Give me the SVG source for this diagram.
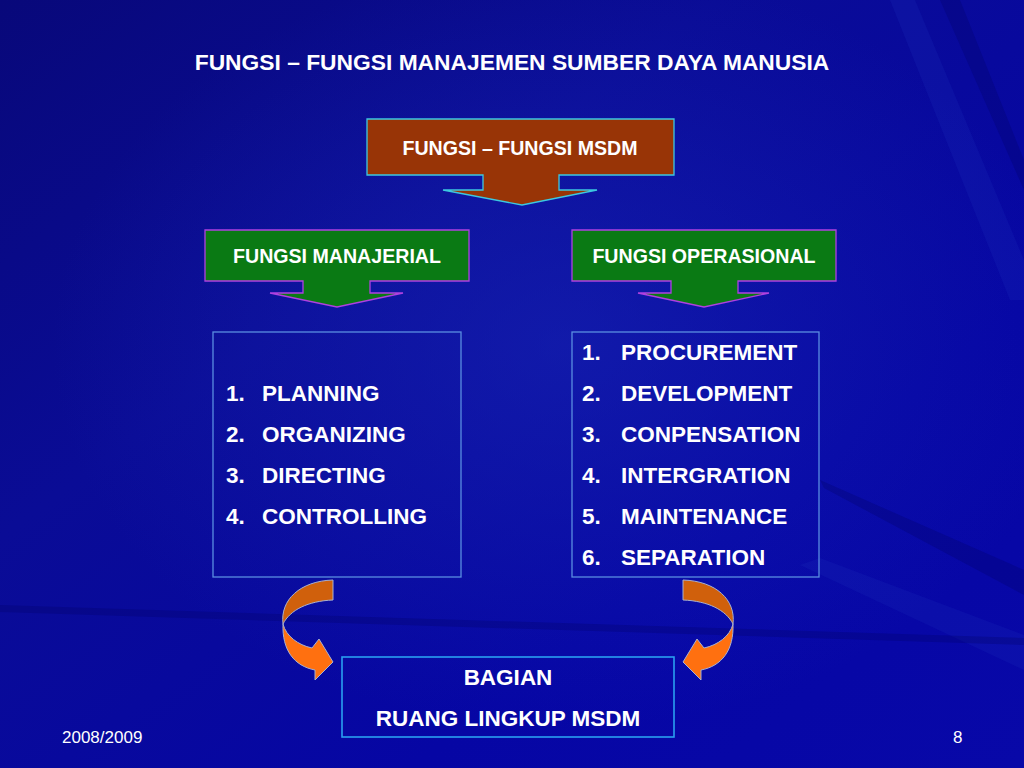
<svg xmlns="http://www.w3.org/2000/svg" width="1024" height="768" viewBox="0 0 1024 768">
<defs>
<linearGradient id="bg" x1="0" y1="0" x2="1" y2="1">
<stop offset="0" stop-color="#08087a"/>
<stop offset="0.35" stop-color="#0a0c96"/>
<stop offset="0.7" stop-color="#0606a4"/>
<stop offset="1" stop-color="#0808a8"/>
</linearGradient>
<radialGradient id="glow" cx="0.55" cy="0.45" r="0.5">
<stop offset="0" stop-color="#1a2ab8" stop-opacity="0.5"/>
<stop offset="1" stop-color="#1a2ab8" stop-opacity="0"/>
</radialGradient>
<style>
text{font-family:"Liberation Sans",Arial,sans-serif;fill:#ffffff}
.title{font-size:22.8px;font-weight:bold}
.hdr{font-size:19.6px;font-weight:bold}
.li{font-size:22.5px;font-weight:bold}
.ft{font-size:17px}
.brown{fill:#983406;stroke:#3cc8e0;stroke-width:1.3}
.green{fill:#0a7a14;stroke:#b040e0;stroke-width:1.3}
.list{fill:none;stroke:#5a8ee0;stroke-width:1.3}
.bottom{fill:none;stroke:#2aa0f0;stroke-width:1.6}
.back{fill:#d0600c;stroke:#a8b0d0;stroke-width:1}
.front{fill:#ff7010;stroke:#a8b0d0;stroke-width:1}
.streak{fill:#2030c0;opacity:0.2}
.dstreak{fill:#04046a;opacity:0.3}
</style>
</defs>
<rect width="1024" height="768" fill="url(#bg)"/>
<rect width="1024" height="768" fill="url(#glow)"/>
<g id="background-streaks">
<path class="streak" d="M1024,670 L800,565 L820,558 L1024,635 Z"/>
<path class="dstreak" d="M1024,570 L820,480 L824,488 L1024,595 Z"/>
<path class="dstreak" d="M0,612 L1024,645 L1024,638 L0,605 Z"/>
<path class="streak" d="M890,0 L1010,300 L1024,300 L1024,260 L915,0 Z"/>
<path class="dstreak" d="M940,0 L1024,190 L1024,160 L960,0 Z"/>
</g>
<text class="title" x="512" y="70" text-anchor="middle">FUNGSI – FUNGSI MANAJEMEN SUMBER DAYA MANUSIA</text>
<g id="node-msdm">
<path class="brown" d="M367,119 H674 V175 H559 V190 H597 L522,205 L443,190 H483 V175 H367 Z"/>
<text class="hdr" x="520" y="155" text-anchor="middle">FUNGSI – FUNGSI MSDM</text>
</g>
<g id="node-manajerial">
<path class="green" d="M205,230 H469 V281 H370 V293 H403 L337,307 L270,293 H303 V281 H205 Z"/>
<text class="hdr" x="337" y="263" text-anchor="middle">FUNGSI MANAJERIAL</text>
</g>
<g id="node-operasional">
<path class="green" d="M572,230 H836 V281 H738 V293 H769 L704,307 L638,293 H671 V281 H572 Z"/>
<text class="hdr" x="704" y="263" text-anchor="middle">FUNGSI OPERASIONAL</text>
</g>
<g id="node-list-manajerial">
<rect class="list" x="213" y="332" width="248" height="245"/>
<text class="li" x="226" y="401">1.</text><text class="li" x="262" y="401">PLANNING</text>
<text class="li" x="226" y="442">2.</text><text class="li" x="262" y="442">ORGANIZING</text>
<text class="li" x="226" y="483">3.</text><text class="li" x="262" y="483">DIRECTING</text>
<text class="li" x="226" y="524">4.</text><text class="li" x="262" y="524">CONTROLLING</text>
</g>
<g id="node-list-operasional">
<rect class="list" x="572" y="332" width="247" height="245"/>
<text class="li" x="582" y="360">1.</text><text class="li" x="621" y="360">PROCUREMENT</text>
<text class="li" x="582" y="401">2.</text><text class="li" x="621" y="401">DEVELOPMENT</text>
<text class="li" x="582" y="442">3.</text><text class="li" x="621" y="442">CONPENSATION</text>
<text class="li" x="582" y="483">4.</text><text class="li" x="621" y="483">INTERGRATION</text>
<text class="li" x="582" y="524">5.</text><text class="li" x="621" y="524">MAINTENANCE</text>
<text class="li" x="582" y="565">6.</text><text class="li" x="621" y="565">SEPARATION</text>
</g>
<g id="node-bagian">
<rect class="bottom" x="342" y="657" width="332" height="80"/>
<text class="li" x="508" y="685" text-anchor="middle">BAGIAN</text>
<text class="li" x="508" y="726" text-anchor="middle">RUANG LINGKUP MSDM</text>
</g>
<g id="connectors">
<g id="arrow-left">
<path class="back" d="M333,580 L333,600 C308,601 290,610 283,624 C280,600 300,581 333,580 Z"/>
<path class="front" d="M283,624 C286,636 298,645 312,648 L319,639 L333,662 L315,680 L315,670 C294,666 282,650 283,624 Z"/>
</g>
<g id="arrow-right" transform="translate(1016,0) scale(-1,1)">
<path class="back" d="M333,580 L333,600 C308,601 290,610 283,624 C280,600 300,581 333,580 Z"/>
<path class="front" d="M283,624 C286,636 298,645 312,648 L319,639 L333,662 L315,680 L315,670 C294,666 282,650 283,624 Z"/>
</g>
</g>
<text class="ft" x="62" y="743">2008/2009</text>
<text class="ft" x="953" y="743">8</text>
</svg>
